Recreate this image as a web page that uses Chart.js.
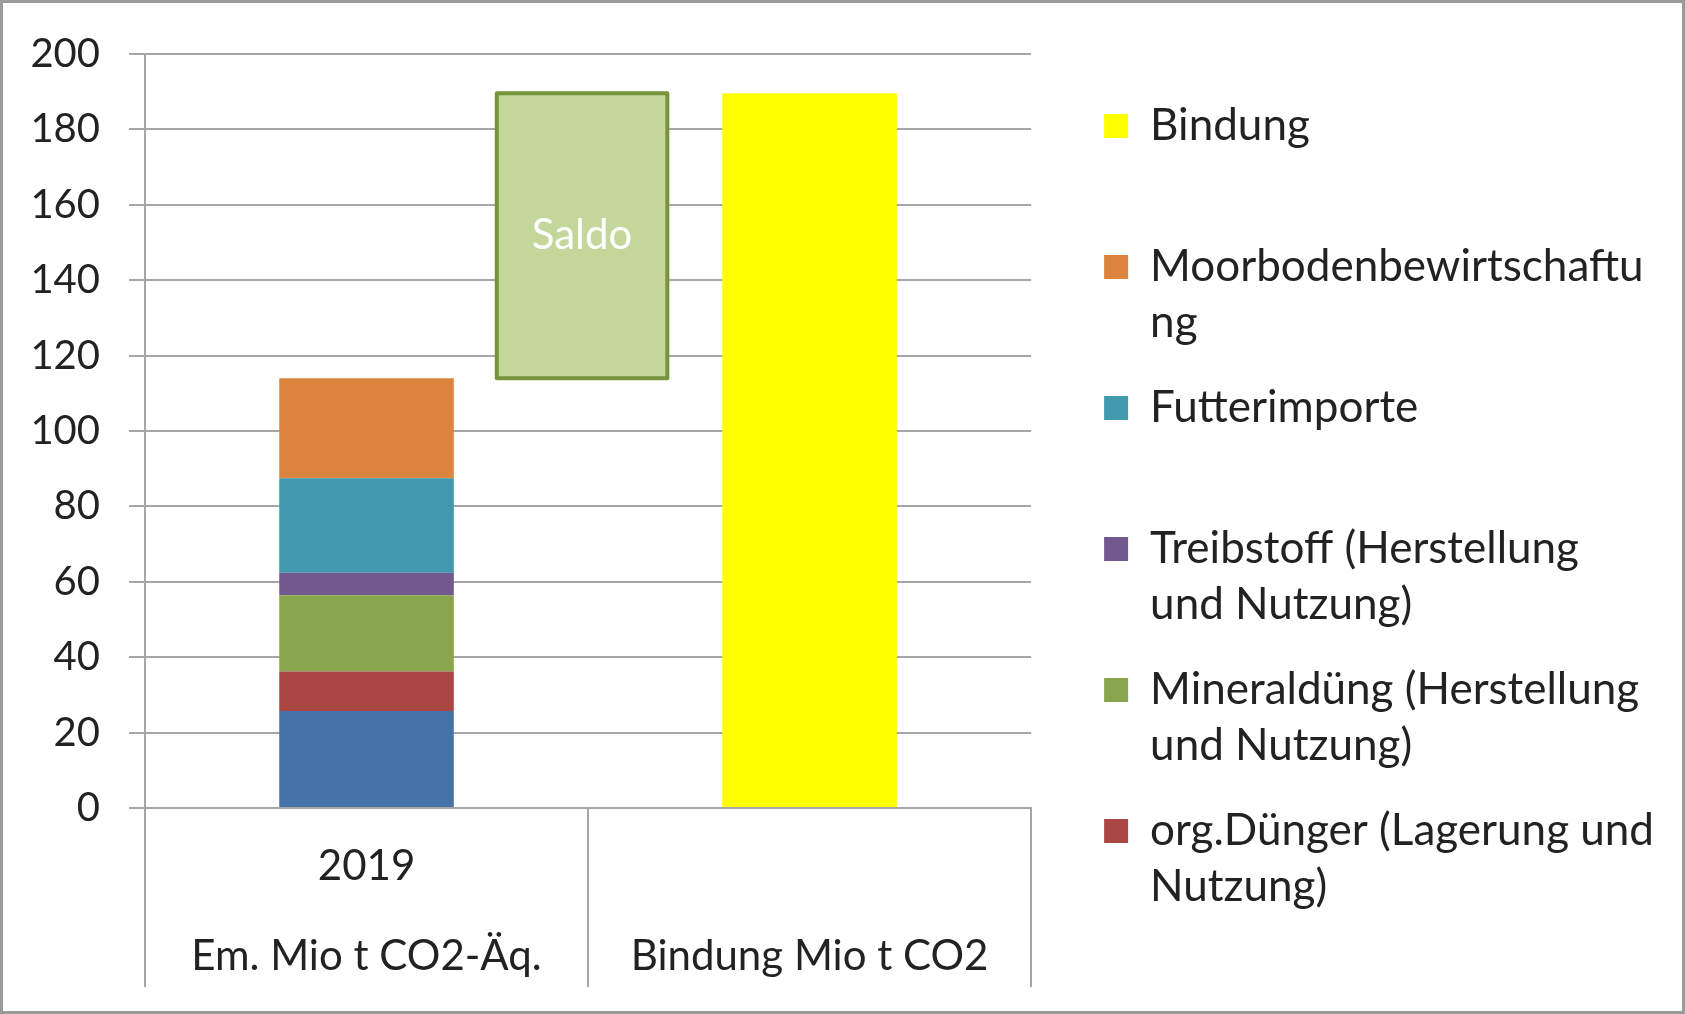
<!DOCTYPE html>
<html lang="de">
<head>
<meta charset="utf-8">
<title>Emissionen und Bindung 2019</title>
<script src="https://cdn.jsdelivr.net/npm/chart.js@4.4.1/dist/chart.umd.min.js"></script>
<style>
    html, body { margin: 0; padding: 0; background: #fff; }
    #rahmen { position: relative; width: 1685px; height: 1014px; }
    #rahmen canvas { position: absolute; left: 0; top: 0; }
    #rahmen .linie { position: absolute; left: 0; top: 0; right: 0; bottom: 0; border: 3px solid #9a9a9a; box-sizing: border-box; pointer-events: none; }
</style>
</head>
<body>
<div id="rahmen">
    <canvas id="grafico" width="1685" height="1014"></canvas>
    <div class="linie"></div>
</div>
<script>
// Kategorien (zweizeilig wie in der Vorlage)
const kategorien = [['2019', 'Em. Mio t CO2-Äq.'], ['', 'Bindung Mio t CO2']];

// Werte in Mio t
const weitere = [25.7, null];          // blaue Reihe, Legende in der Vorlage abgeschnitten
const orgDuenger = [10.5, null];
const mineralduenger = [20.2, null];
const treibstoff = [6.0, null];
const futterimporte = [25.1, null];
const moorboden = [26.5, null];
const bindung = [null, 189.6];

// y-Achse
const yMin = 0;
const yMax = 200;
const ySchritt = 20;

// Legendentexte (Zeilenumbruch wie in der Vorlage)
const legBindung = ['Bindung', ''];
const legMoorboden = ['Moorbodenbewirtschaftu', 'ng'];
const legFutter = ['Futterimporte', ''];
const legTreibstoff = ['Treibstoff (Herstellung', 'und Nutzung)'];
const legMineral = ['Mineraldüng (Herstellung', 'und Nutzung)'];
const legOrg = ['org.Dünger (Lagerung und', 'Nutzung)'];

const SCHRIFT = 'Lato, "Open Sans", sans-serif';
const TEXTFARBE = '#222222';
const GITTER = '#a6a6a6';

Chart.defaults.font.family = SCHRIFT;
Chart.defaults.color = TEXTFARBE;

const emissionsReihen = [weitere, orgDuenger, mineralduenger, treibstoff, futterimporte, moorboden];

// Saldo-Kasten zwischen Emissionssumme und Bindung
const saldoPlugin = {
    id: 'saldo',
    afterDatasetsDraw(chart) {
        const ctx = chart.ctx;
        const x = chart.scales.x;
        const y = chart.scales.y;
        const summe = emissionsReihen.reduce((s, r) => s + r[0], 0);
        const oben = y.getPixelForValue(bindung[1]);
        const unten = y.getPixelForValue(summe);
        const breite = chart.getDatasetMeta(0).data[0].width - 4;
        const mitte = (x.getPixelForValue(0) + x.getPixelForValue(1)) / 2 - 6;

        ctx.save();
        ctx.fillStyle = '#c4d79b';
        ctx.strokeStyle = '#77933c';
        ctx.lineWidth = 4;
        ctx.lineJoin = 'round';
        ctx.fillRect(mitte - breite / 2, oben, breite, unten - oben);
        ctx.strokeRect(mitte - breite / 2, oben, breite, unten - oben);
        ctx.fillStyle = '#ffffff';
        ctx.font = '42px ' + SCHRIFT;
        ctx.textAlign = 'center';
        ctx.textBaseline = 'middle';
        ctx.fillText('Saldo', mitte, (oben + unten) / 2);
        ctx.restore();
    }
};

function reihe(label, data, farbe, legende) {
    return {
        label: label,
        data: data,
        backgroundColor: farbe,
        borderWidth: 0,
        barPercentage: 0.394,
        categoryPercentage: 1.0,
        legende: legende
    };
}

const ctx = document.getElementById('grafico').getContext('2d');

new Chart(ctx, {
    type: 'bar',
    data: {
        labels: kategorien,
        datasets: [
            reihe('weitere Emissionen', weitere, '#4572a7', null),
            reihe('org.Dünger (Lagerung und Nutzung)', orgDuenger, '#aa4643', legOrg),
            reihe('Mineraldüng (Herstellung und Nutzung)', mineralduenger, '#89a54e', legMineral),
            reihe('Treibstoff (Herstellung und Nutzung)', treibstoff, '#71588f', legTreibstoff),
            reihe('Futterimporte', futterimporte, '#4198af', legFutter),
            reihe('Moorbodenbewirtschaftung', moorboden, '#db843d', legMoorboden),
            reihe('Bindung', bindung, '#ffff00', legBindung)
        ]
    },
    options: {
        responsive: false,
        animation: false,
        layout: {
            padding: { top: 54, left: 30, right: 21, bottom: 0 }
        },
        scales: {
            x: {
                stacked: true,
                grid: { offset: true, drawOnChartArea: false, tickLength: 179, color: GITTER, lineWidth: 2 },
                border: { color: GITTER, width: 2 },
                ticks: {
                    padding: -166,
                    maxRotation: 0,
                    autoSkip: false,
                    font: { size: 42, lineHeight: 2.15 }
                },
                afterFit: function (s) { s.height = 206; }
            },
            y: {
                stacked: true,
                min: yMin,
                max: yMax,
                ticks: { stepSize: ySchritt, padding: 29, font: { size: 40 } },
                grid: { color: GITTER, lineWidth: 2, tickLength: 16 },
                border: { color: GITTER, width: 2 },
                afterFit: function (s) { s.width = 115; }
            },
            // Platzhalter zwischen Diagramm und Legende
            abstand: {
                position: 'right',
                display: true,
                grid: { display: false },
                border: { display: false },
                ticks: { display: false },
                afterFit: function (s) { s.width = 44; }
            }
        },
        plugins: {
            tooltip: { enabled: false },
            legend: {
                position: 'right',
                align: 'start',
                reverse: true,
                maxWidth: 592,
                title: { display: true, text: ' ', font: { size: 10, lineHeight: 1 }, padding: { top: 5, bottom: 6 } },
                labels: {
                    boxWidth: 24,
                    boxHeight: 24,
                    padding: 29,
                    color: TEXTFARBE,
                    font: { size: 44, lineHeight: 1.2727 },
                    generateLabels: function (chart) {
                        const items = Chart.defaults.plugins.legend.labels.generateLabels(chart);
                        return items
                            .filter(it => chart.data.datasets[it.datasetIndex].legende)
                            .map(it => Object.assign(it, {
                                text: chart.data.datasets[it.datasetIndex].legende,
                                lineWidth: 0
                            }));
                    }
                }
            }
        }
    },
    plugins: [saldoPlugin]
});
</script>
</body>
</html>
